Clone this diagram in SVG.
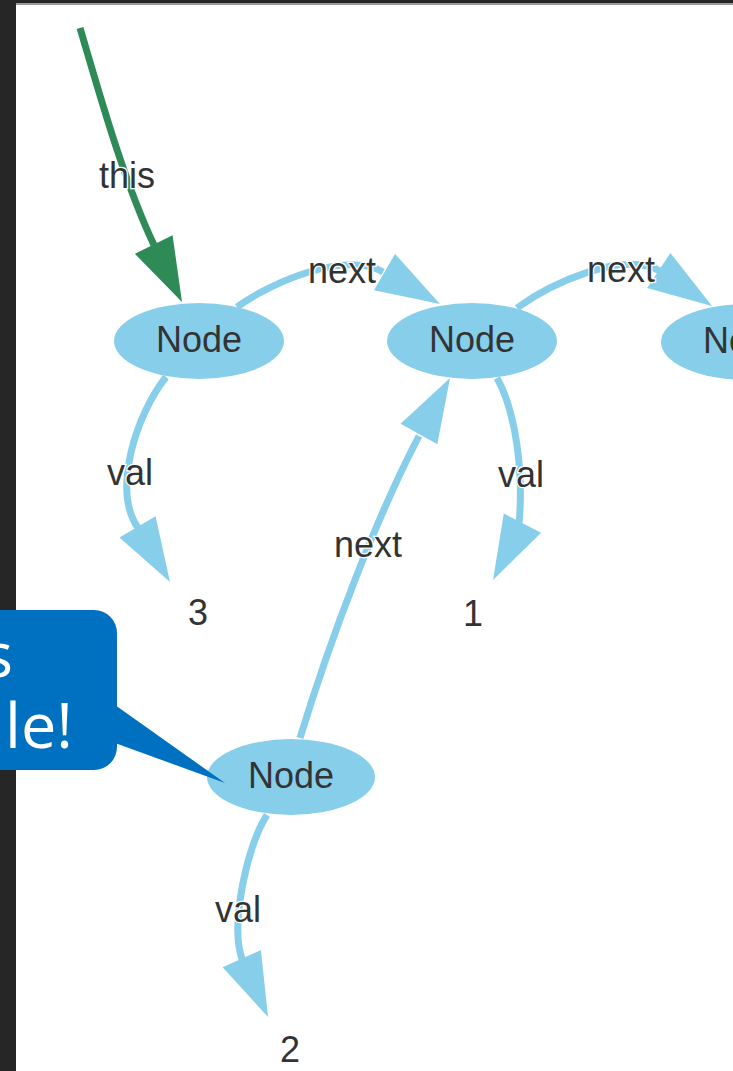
<svg xmlns="http://www.w3.org/2000/svg" xmlns:xlink="http://www.w3.org/1999/xlink" width="733" height="1071" viewBox="0 0 733 1071">
<style>
.node ellipse{fill:#87ceeb}
.lbl{font-family:"Liberation Sans",Arial,sans-serif;font-size:36px;fill:#333;text-anchor:middle}
.elbl{font-family:"Liberation Sans",Arial,sans-serif;font-size:36px;fill:#333;text-anchor:middle;stroke:#fff;stroke-width:2.5;paint-order:stroke}
.edge{fill:none;stroke:#87ceeb;stroke-width:7}
.green{fill:none;stroke:#2e8b57;stroke-width:7}
.call{fill:#0070c0}
.ctext{font-family:"Open Sans","Noto Sans",sans-serif;font-size:63px;fill:#fff;text-anchor:end}
</style>
<defs>
<polygon id="ah" points="0,0 -64,-21 -64,21"/>
</defs>
<rect x="0" y="0" width="733" height="1071" fill="#262626"/>
<rect x="16" y="3" width="717" height="2" fill="#9a9a9a"/>
<rect x="16" y="5" width="717" height="1066" fill="#ffffff"/>
<g id="connectors">
<path class="green" d="M80,28 C97,85 123,180 154,245"/>
<use xlink:href="#ah" fill="#2e8b57" transform="translate(182,302) rotate(63.8)"/>
<path class="edge" d="M237,307 C270,283 345,250 383,272"/>
<use xlink:href="#ah" fill="#87ceeb" transform="translate(440,304) rotate(29.9)"/>
<path class="edge" d="M517,308 C550,284 622,250 660,271"/>
<use xlink:href="#ah" fill="#87ceeb" transform="translate(712,306) rotate(33.7)"/>
<path class="edge" d="M166,377 C136,415 112,490 138,528"/>
<use xlink:href="#ah" fill="#87ceeb" transform="translate(170,582) rotate(59.5)"/>
<path class="edge" d="M497,378 C515,410 524,470 519,524"/>
<use xlink:href="#ah" fill="#87ceeb" transform="translate(493,580) rotate(117.4)"/>
<path class="edge" d="M300,738 C330,640 375,520 419,436"/>
<use xlink:href="#ah" fill="#87ceeb" transform="translate(450,378) rotate(-61)"/>
<path class="edge" d="M267,815 C247,845 230,925 242,959"/>
<use xlink:href="#ah" fill="#87ceeb" transform="translate(268,1017) rotate(65.8)"/>
<text class="elbl" x="127" y="188">this</text>
<text class="elbl" x="342" y="283">next</text>
<text class="elbl" x="621" y="282">next</text>
<text class="elbl" x="368" y="557">next</text>
<text class="elbl" x="130" y="485">val</text>
<text class="elbl" x="521" y="487">val</text>
<text class="elbl" x="238" y="922">val</text>
</g>
<g id="node1" class="node"><ellipse cx="199" cy="341" rx="85" ry="38"/><text class="lbl" x="199" y="352">Node</text></g>
<g id="node2" class="node"><ellipse cx="472" cy="341" rx="85" ry="38"/><text class="lbl" x="472" y="352">Node</text></g>
<g id="node3" class="node"><ellipse cx="746" cy="342" rx="85" ry="38"/><text class="lbl" x="746" y="353">Node</text></g>
<g id="node4" class="node"><ellipse cx="291" cy="777" rx="84" ry="38"/><text class="lbl" x="291" y="788">Node</text></g>
<g id="val3"><text class="lbl" x="198" y="625">3</text></g>
<g id="val1"><text class="lbl" x="473" y="626">1</text></g>
<g id="val2"><text class="lbl" x="290" y="1062">2</text></g>
<g id="callout">
<rect class="call" x="-40" y="610" width="157" height="160" rx="23"/>
<polygon class="call" points="115,705 225,783 115,743"/>
<text class="ctext" x="13" y="677">s</text>
<text class="ctext" x="73" y="748">le!</text>
</g>
</svg>
